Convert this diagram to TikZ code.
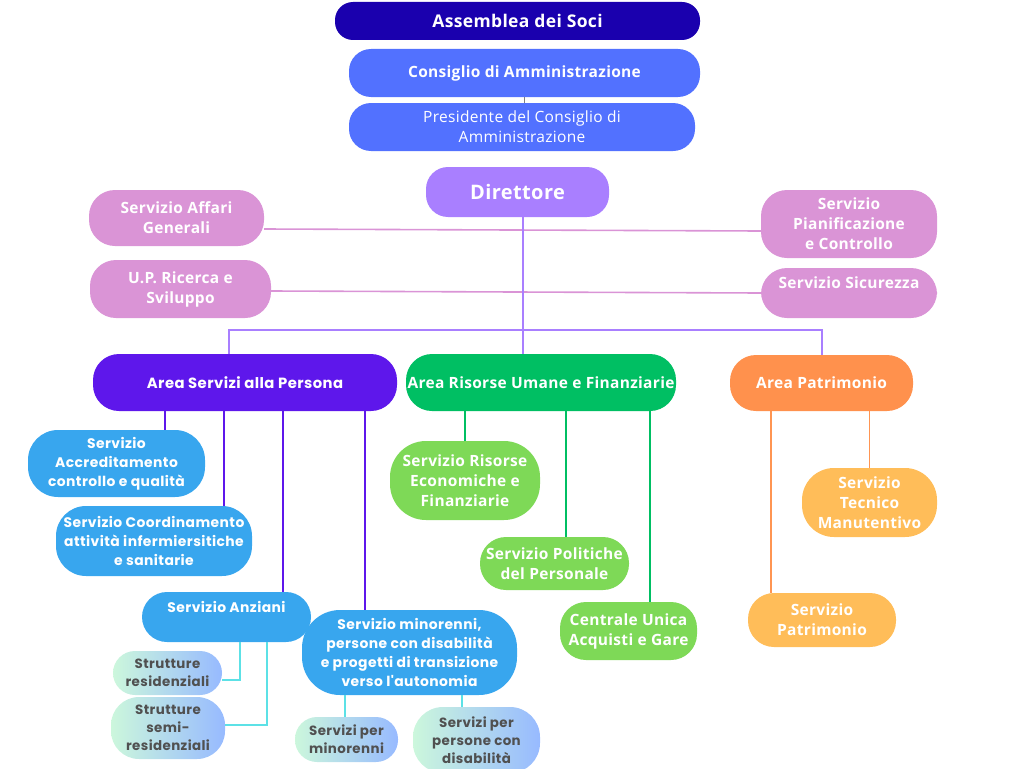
\documentclass[tikz,border=0pt]{standalone}
\usepackage{fontspec}
\setmainfont{Open Sans}[LetterSpace=2]
\newfontfamily\popfont{Poppins}[LetterSpace=3]

\definecolor{asmcol}{HTML}{1A00AE}
\definecolor{cdacol}{HTML}{5271FF}
\definecolor{dircol}{HTML}{A97FFF}
\definecolor{pinkcol}{HTML}{DA94D6}
\definecolor{perscol}{HTML}{5E17EB}
\definecolor{riscol}{HTML}{00BF63}
\definecolor{patcol}{HTML}{FF914D}
\definecolor{patline}{HTML}{FF9552}
\definecolor{servblue}{HTML}{38A6EE}
\definecolor{servgreen}{HTML}{7ED957}
\definecolor{servorange}{HTML}{FFBD59}
\definecolor{cyanline}{HTML}{5CE1E6}
\definecolor{gradL}{HTML}{CCF7DC}
\definecolor{gradR}{HTML}{97BAFF}
\definecolor{graytext}{HTML}{505050}

\begin{document}
\begin{tikzpicture}
    [x=1pt, y=-1pt,
     every node/.style = {align=center, text=white, inner sep=0pt,
       font=\bfseries\fontsize{15.5}{20}\selectfont},
     wh/.style 2 args = {minimum width=#1pt, minimum height=#2pt},
     asmbox/.style = {fill=asmcol, rounded corners=18pt, font=\bfseries\fontsize{17.5}{20}\selectfont},
     topbox/.style = {fill=cdacol, rounded corners=22pt, font=\bfseries\fontsize{15.5}{20}\selectfont},
     dirbox/.style = {fill=dircol, rounded corners=22pt, font=\bfseries\fontsize{20}{22}\selectfont},
     pinkbox/.style = {fill=pinkcol, rounded corners=26pt},
     areabox/.style = {rounded corners=26pt, font=\bfseries\fontsize{15.5}{20}\selectfont},
     bluebox/.style = {fill=servblue, rounded corners=30pt, font=\popfont\bfseries\fontsize{13.9}{19}\selectfont},
     greenbox/.style = {fill=servgreen, rounded corners=26pt},
     orangebox/.style = {fill=servorange, rounded corners=26pt},
     gradbox/.style = {left color=gradL, right color=gradR, text=graytext, rounded corners=22pt,
       font=\popfont\bfseries\fontsize{13.4}{18}\selectfont},
     uptext/.style = {text depth=20pt},
     link/.style = {line width=1.6pt}]
    \useasboundingbox (0,0) rectangle (1024,768);

    % vertice
    \node[asmbox, wh={365}{38}] (asm) at (517.5,21) {Assemblea dei Soci};
    \node[topbox, wh={351}{48}] (cda) at (524.5,73) {Consiglio di Amministrazione};
    \node[topbox, wh={346}{48}, font=\fontsize{15.5}{20}\selectfont] (pres) at (522,127)
      {Presidente del Consiglio di\\Amministrazione};
    \node[dirbox, wh={183}{50}] (dir) at (517.5,192) {Direttore};

    % staff
    \node[pinkbox, wh={175}{56}] (affari) at (176.5,218) {Servizio Affari\\Generali};
    \node[pinkbox, wh={176}{68}] (pianif) at (849,224) {Servizio\\Pianificazione\\e Controllo};
    \node[pinkbox, wh={181}{58}] (ricerca) at (180.5,289) {U.P. Ricerca e\\Sviluppo};
    \node[pinkbox, uptext, wh={176}{50}] (sicur) at (849,293) {Servizio Sicurezza};

    % aree
    \node[areabox, fill=perscol, font=\popfont\bfseries\fontsize{14.8}{19}\selectfont,
      wh={304}{57}] (areapers) at (245,382.5) {Area Servizi alla Persona};
    \node[areabox, fill=riscol, wh={270}{57}] (arearis) at (541,382.5) {Area Risorse Umane e Finanziarie};
    \node[areabox, fill=patcol, wh={183}{56}] (areapat) at (821.5,383) {Area Patrimonio};

    % servizi alla persona
    \node[bluebox, wh={177}{67}] (accr) at (116.5,463.5) {Servizio\\Accreditamento\\controllo e qualità};
    \node[bluebox, wh={196}{70}] (coord) at (154,541) {Servizio Coordinamento\\attività infermiersitiche\\e sanitarie};
    \node[bluebox, uptext, rounded corners=25pt, wh={169}{50}] (anziani) at (226.5,617) {Servizio Anziani};
    \node[bluebox, rounded corners=38pt, wh={215}{85}] (minor) at (409.5,652.5)
      {Servizio minorenni,\\persone con disabilità\\e progetti di transizione\\verso l'autonomia};
    \node[gradbox, wh={109}{44}] (strres) at (167.5,673) {Strutture\\residenziali};
    \node[gradbox, rounded corners=28pt, wh={114}{62}] (strsemi) at (168,728) {Strutture\\semi-\\residenziali};
    \node[gradbox, wh={103}{45}] (servmin) at (346.5,739.5) {Servizi per\\minorenni};
    \node[gradbox, rounded corners=30pt, wh={127}{66}] (servdis) at (476.5,740) {Servizi per\\persone con\\disabilità};

    % risorse umane e finanziarie
    \node[greenbox, rounded corners=36pt, wh={150}{79}] (risecon) at (465,480.5) {Servizio Risorse\\Economiche e\\Finanziarie};
    \node[greenbox, wh={149}{53}] (polit) at (554.5,563.5) {Servizio Politiche\\del Personale};
    \node[greenbox, wh={137}{58}] (centrale) at (628.5,631) {Centrale Unica\\Acquisti e Gare};

    % patrimonio
    \node[orangebox, rounded corners=32pt, wh={135}{69}] (tecnico) at (869.5,502.5) {Servizio\\Tecnico\\Manutentivo};
    \node[orangebox, wh={148}{54}] (patr) at (822,620) {Servizio\\Patrimonio};

    % collegamenti
    \draw[gray, line width=1pt] (cda.south) -- (cda.south |- pres.north);
    \draw[link, pinkcol] ([yshift=-11pt]affari.east) -- ([yshift=-7pt]pianif.west);
    \draw[link, pinkcol] ([yshift=-2pt]ricerca.east) -- (sicur.west);
    \coordinate (dirfoot) at ([xshift=5.5pt]dir.south);
    \draw[link, dircol] (dirfoot) -- (dirfoot |- arearis.north);
    \coordinate (busL) at (229,330);
    \coordinate (busR) at (822,330);
    \draw[link, dircol] (busL |- areapers.north) -- (busL) -- (busR) -- (busR |- areapat.north);

    \foreach \child/\dx in {accr/48.5, coord/70, anziani/56.5, minor/-44.5} {
      \coordinate (top) at ([xshift=\dx pt]\child.north);
      \draw[link, perscol] (top) -- (top |- areapers.south);
    }
    \foreach \child/\dx in {risecon/0, polit/11.5, centrale/21.5} {
      \coordinate (top) at ([xshift=\dx pt]\child.north);
      \draw[link, riscol] (top) -- (top |- arearis.south);
    }
    \foreach \child/\dx in {tecnico/0, patr/-51} {
      \coordinate (top) at ([xshift=\dx pt]\child.north);
      \draw[link, patline] (top) -- (top |- areapat.south);
    }

    \draw[link, cyanline] ([xshift=13.5pt]anziani.south) |- ([yshift=-7pt]strres.east);
    \draw[link, cyanline] ([xshift=40.5pt]anziani.south) |- ([yshift=3pt]strsemi.east);
    \foreach \child/\dx in {servmin/-1.5, servdis/-14.5} {
      \coordinate (top) at ([xshift=\dx pt]\child.north);
      \draw[link, cyanline] (top) -- (top |- minor.south);
    }
  \end{tikzpicture}
\end{document}
